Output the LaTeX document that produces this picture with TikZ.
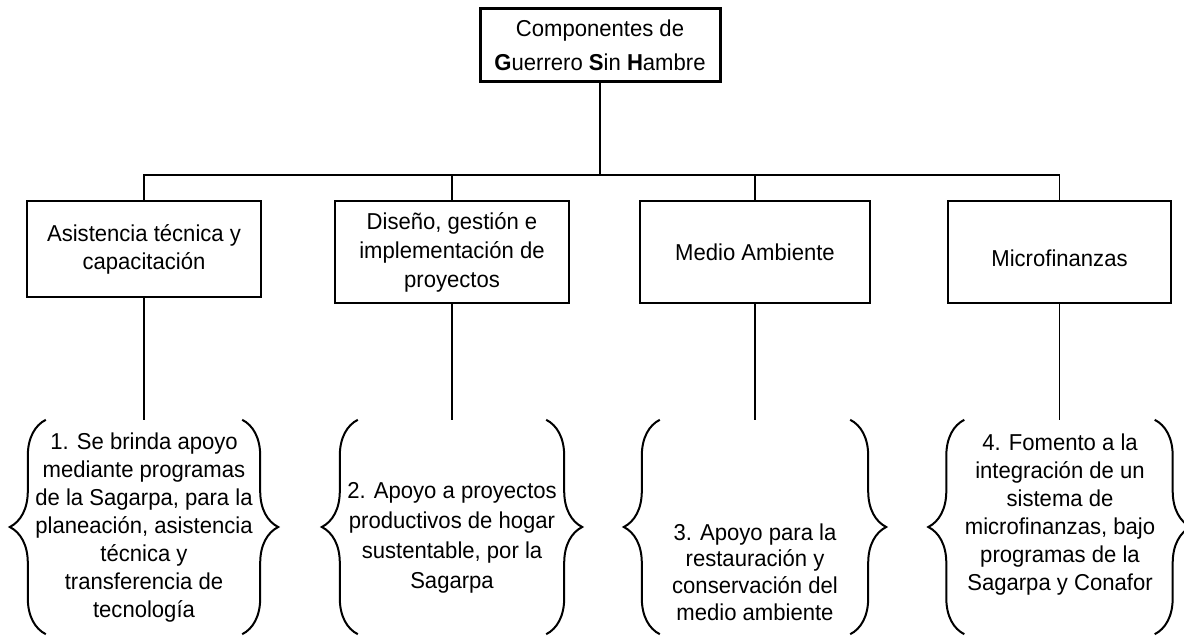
\documentclass[tikz,border=0pt]{standalone}
\usepackage{fontspec}
\setmainfont{Liberation Sans}[FakeStretch=0.96]
\usetikzlibrary{decorations.pathreplacing}

\begin{document}
\begin{tikzpicture}[x=1pt,y=-1pt,
    caja/.style={draw,line width=2.3pt,align=center,inner sep=0pt,minimum height=102pt},
    liga/.style={line width=1.8pt},
    llave/.style={decorate,decoration={brace,amplitude=36pt},line width=2pt},
    zona/.style={minimum width=190pt,minimum height=214pt,inner sep=0pt},
    texto/.style={align=center,inner sep=0pt},
    every node/.style={font=\fontsize{23}{29}\selectfont}]
  \useasboundingbox (0,0) rectangle (1184,636);
  % componentes
  \node[caja,line width=3pt,minimum width=240pt,minimum height=73pt,font=\fontsize{23}{34}\selectfont] (gsh) at (600,45.5) {Componentes de\\\textbf{G}uerrero \textbf{S}in \textbf{H}ambre};
  \node[caja,minimum width=234pt,minimum height=96pt,font=\fontsize{23}{28}\selectfont] (asis) at (144,249) {Asistencia técnica y\\capacitación};
  \node[caja,minimum width=234pt] (dise) at (452,252) {Diseño, gestión e\\implementación de\\proyectos};
  \node[caja,minimum width=230pt] (medio) at (755,252) {Medio Ambiente};
  \node[caja,minimum width=223pt] (micro) at (1059.5,252) {\mbox{}\\Microfinanzas};
  \coordinate (nudo) at (600,175);
  \draw[line width=2.6pt] (gsh) -- (nudo);
  \foreach \n in {asis,dise,medio,micro}
    \draw[liga] (\n.north) |- (nudo);
  % llaves
  \node[zona,minimum width=196pt] (z1) at (144,527) {};
  \node[zona,minimum width=188pt] (z2) at (452,527) {};
  \node[zona] (z3) at (755,527) {};
  \node[zona] (z4) at (1059.5,527) {};
  \draw[liga] (asis) -- (z1);
  \draw[liga] (dise) -- (z2);
  \draw[liga] (medio) -- (z3);
  \draw[liga] (micro) -- (z4);
  \foreach \z in {z1,z2,z3,z4}{
    \draw[llave] (\z.south west) -- (\z.north west);
    \draw[llave] (\z.north east) -- (\z.south east);
  }
  \node[texto,font=\fontsize{23}{28}\selectfont] (t1) at (144,528) {1. Se brinda apoyo\\mediante programas\\de la Sagarpa, para la\\planeación, asistencia\\técnica y\\transferencia de\\tecnología};
  \node[texto,font=\fontsize{23}{30}\selectfont] (t2) at (452,538) {2. Apoyo a proyectos\\productivos de hogar\\sustentable, por la\\Sagarpa};
  \node[texto,font=\fontsize{23}{26.7}\selectfont] (t3) at (755,572) {3. Apoyo para la\\restauración y\\conservación del\\medio ambiente};
  \node[texto,font=\fontsize{23}{28}\selectfont] (t4) at (1060,515) {4. Fomento a la\\integración de un\\sistema de\\microfinanzas, bajo\\programas de la\\Sagarpa y Conafor};
\end{tikzpicture}
\end{document}
